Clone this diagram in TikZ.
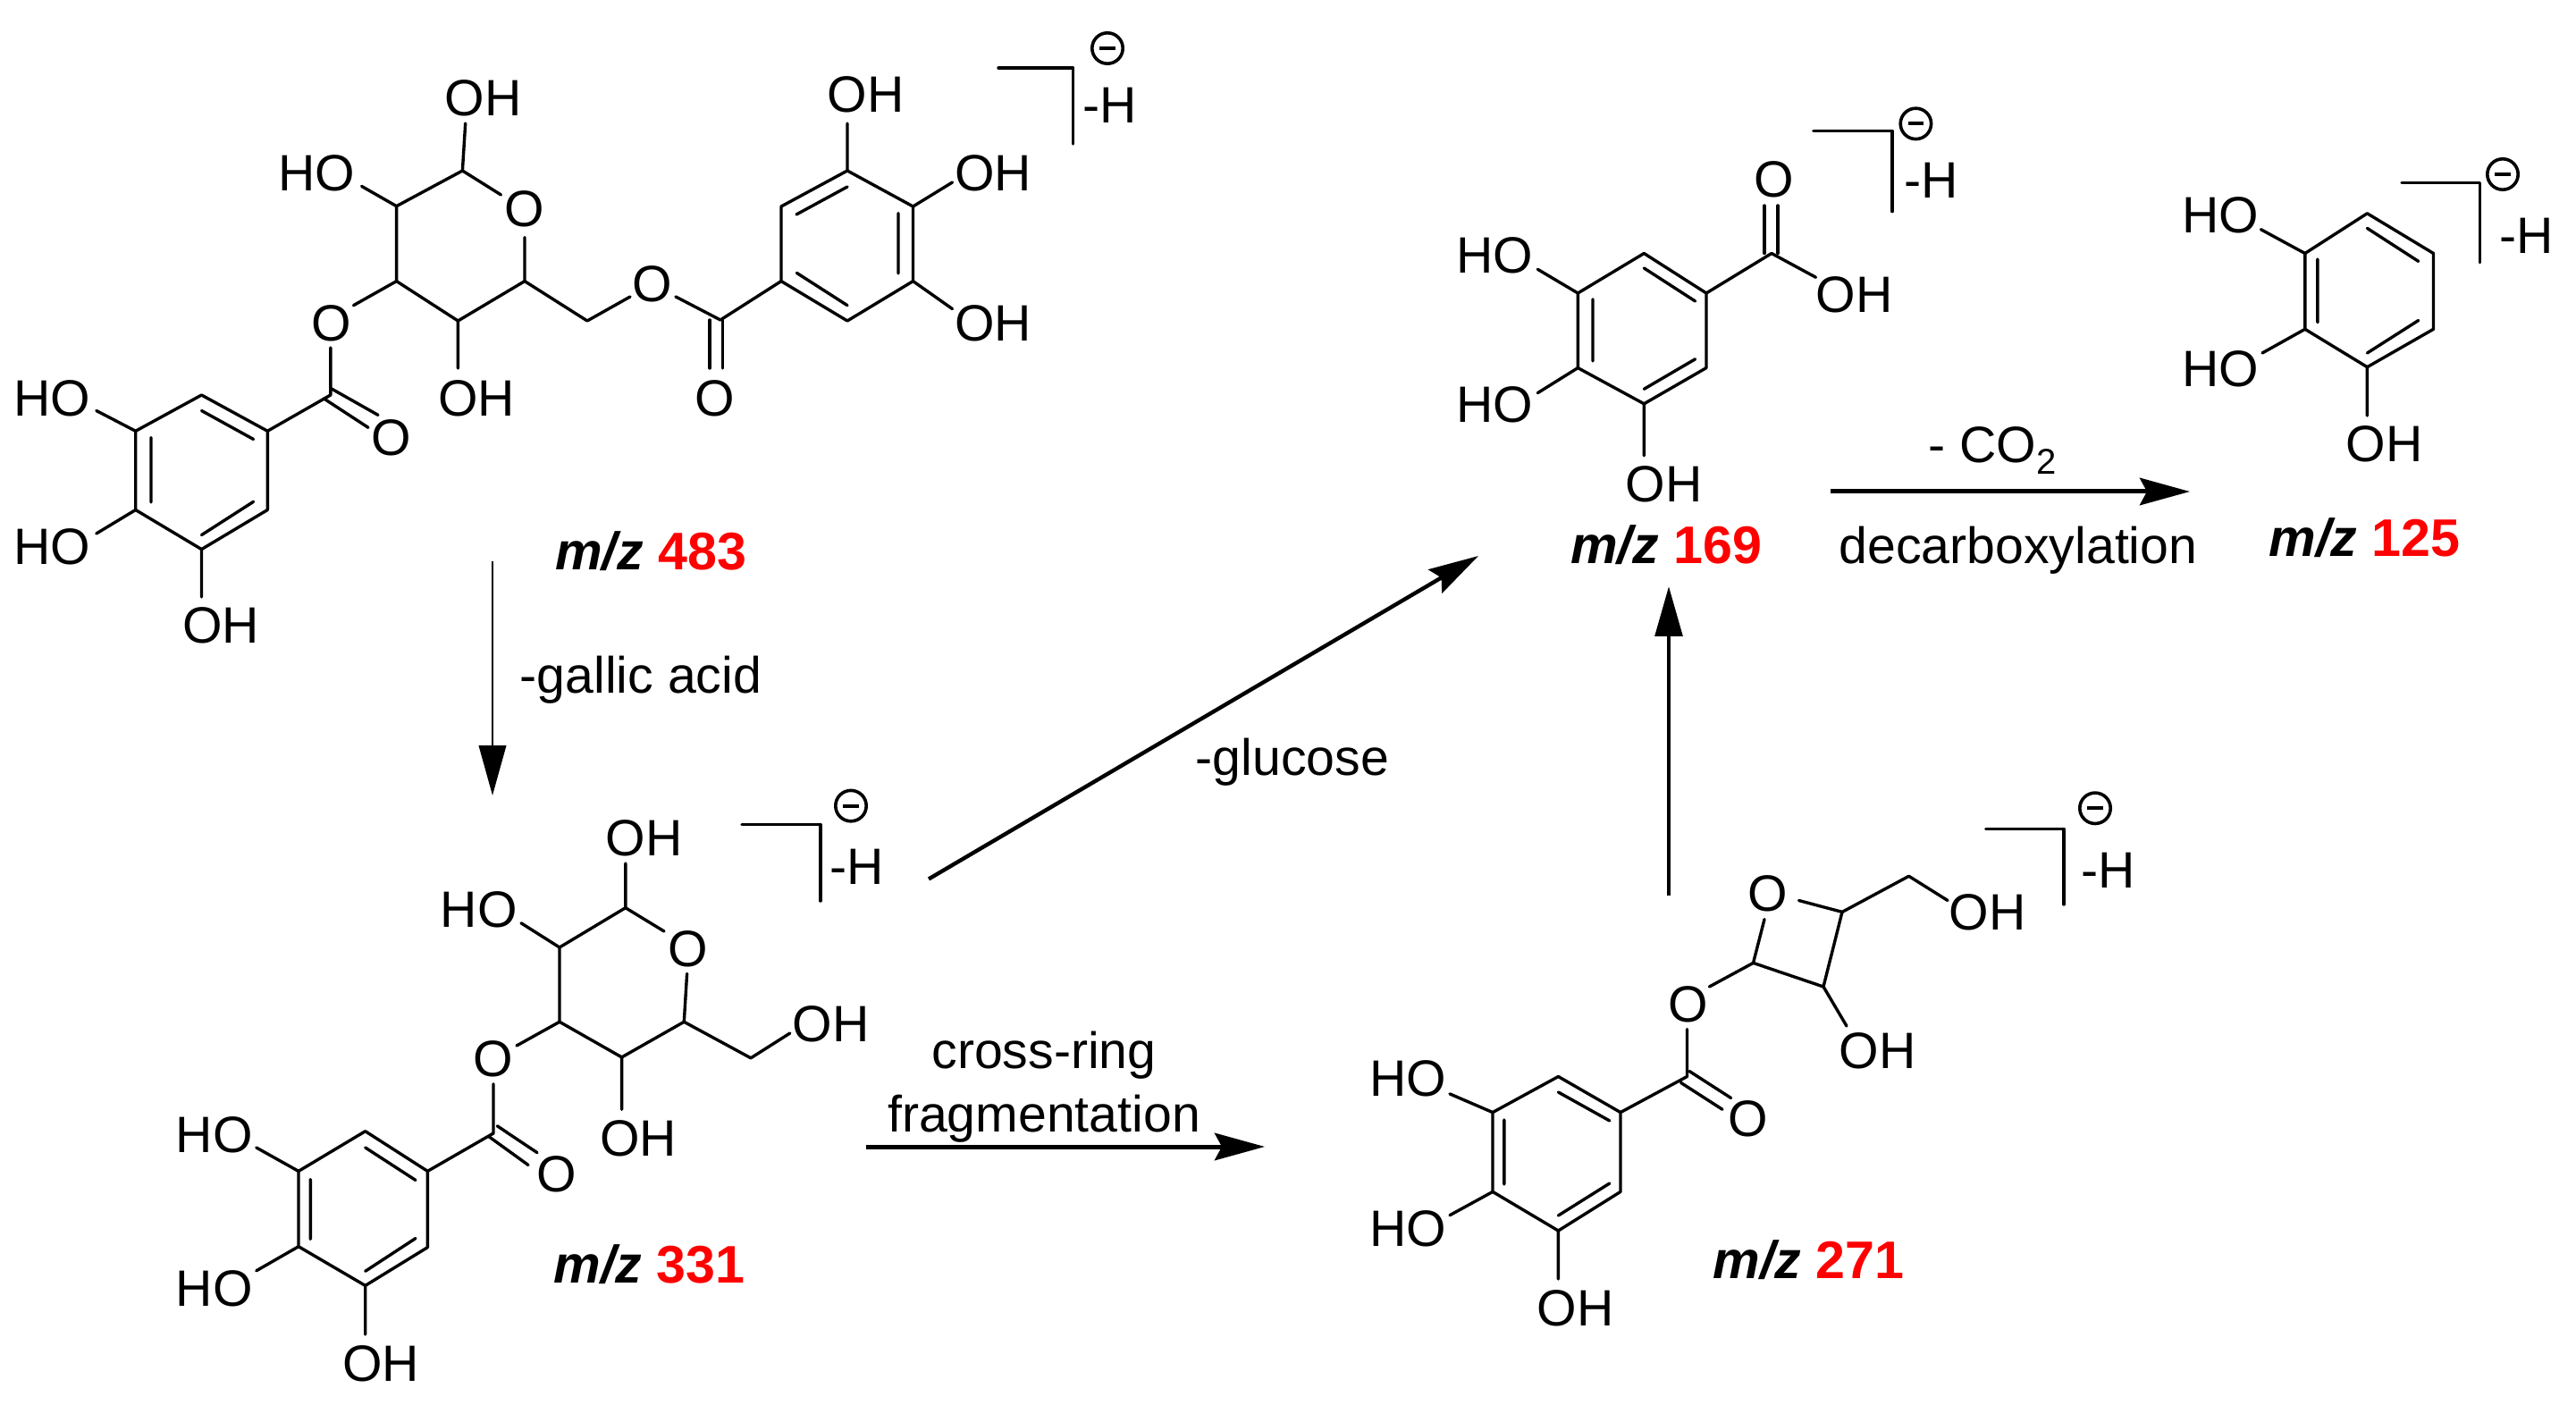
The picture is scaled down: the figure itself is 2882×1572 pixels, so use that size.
\documentclass[tikz,border=0pt]{standalone}
\usepackage{fontspec}
\setmainfont{Liberation Sans}
\usetikzlibrary{arrows.meta}
\definecolor{mzred}{RGB}{255,0,0}
\tikzset{
  bond/.style={line width=0.85pt,line cap=round,line join=round},
  atom/.style={inner sep=0pt,font=\fontsize{14.3pt}{17pt}\selectfont},
  caption text/.style={inner sep=0pt,anchor=base,font=\fontsize{14.3pt}{17pt}\selectfont},
  mz/.style={inner sep=0pt,anchor=base,font=\fontsize{14.8pt}{17pt}\selectfont\bfseries},
  chg/.style={circle,draw,line width=0.9pt,minimum size=8.6pt,inner sep=0pt},
  rxn/.style={-{Stealth[length=14pt,width=7.6pt,inset=2pt]}},
  rxnflat/.style={-{Stealth[length=14pt,width=7.6pt,inset=0pt]}},
}
\newcommand{\mzlabel}[1]{\textit{m/z} \textcolor{mzred}{#1}}
\newcommand{\minussign}{\rule{4.4pt}{1pt}}
\begin{document}
\begin{tikzpicture}[x=0.25pt,y=-0.25pt]
\useasboundingbox (0,0) rectangle (2882,1572);

% ---- m/z 483 ----
\draw[bond] (874,231) -- (948,191) -- (1021.5,231) -- (1021.5,314.6) -- (948,359) -- (874,314.6) -- cycle;
\draw[bond] (948,209) -- (891,240) (1005,238.5) -- (1005,306) (948,341.7) -- (891.4,305.4);
\draw[bond] (948,191) -- (948,138) (1021.5,231) -- (1065.5,204) (1021.5,314.6) -- (1065.5,345.6);
\draw[bond] (874,314.6) -- (806,358) -- (756,332);
\draw[bond] (794,358) -- (794,412) (808.5,358) -- (808.5,412);
\draw[bond] (705,332) -- (657,359) -- (587,314.6) -- (587,265.6);
\draw[bond] (560.5,218) -- (517.4,191) -- (443.6,230.7) -- (443.6,314.6) -- (512.4,359) -- (587,314.6);
\draw[bond] (517.4,191) -- (520.7,138) (443.6,230.7) -- (404.6,208.4) (512.4,359) -- (512.4,412);
\draw[bond] (443.6,314.6) -- (395.5,341.7) (369.8,389) -- (369.8,442) -- (299.3,482.3);
\draw[bond] (362.4,446) -- (412,478.4) (370.6,434.8) -- (423,464.4);
\draw[bond] (299.3,482.3) -- (225.5,442) -- (151.7,482.3) -- (151.7,570.5) -- (225.5,614.6) -- (299.3,570.5) -- cycle;
\draw[bond] (225.5,459.5) -- (283.6,491.5) (169,489.6) -- (169,562) (225.5,598.6) -- (283.6,561.3);
\draw[bond] (151.7,482.3) -- (107.8,459.5) (151.7,570.5) -- (107.8,597) (225.5,614.6) -- (225.5,668);
\draw[bond] (1117,76) -- (1200.7,76) -- (1200.7,161);
\node[atom] (a1) at (968.5,105.7) {OH};
\node[atom] (a2) at (1111,194) {OH};
\node[atom] (a3) at (1111,361.6) {OH};
\node[atom] (a4) at (800,446) {O};
\node[atom] (a5) at (730,317.5) {O};
\node[atom] (a6) at (587,233.6) {O};
\node[atom] (a7) at (540.6,109.5) {OH};
\node[atom] (a8) at (354,194) {HO};
\node[atom] (a9) at (533,446) {OH};
\node[atom] (a10) at (370.6,361.6) {O};
\node[atom] (a11) at (437.8,489.6) {O};
\node[atom] (a12) at (58,446) {HO};
\node[atom] (a13) at (58,611.7) {HO};
\node[atom] (a14) at (247,700) {OH};
\node[atom] (a15) at (1242,118) {-H};
\node[chg] (a16) at (1239,54) {\minussign};
\node[mz] (a17) at (728,637.4) {\mzlabel{483}};

% ---- m/z 331 ----
\draw[bond] (830,922.3) -- (917.8,922.3) -- (917.8,1008);
\draw[bond] (743,1042) -- (699.8,1015.7) -- (626,1060) -- (626,1143.3) -- (695.6,1182.9) -- (765.3,1143.3) -- (768.6,1089.4);
\draw[bond] (699.8,1015.7) -- (699.8,966) (626,1060) -- (583,1032.8);
\draw[bond] (765.3,1143.3) -- (840,1183.8) -- (883.8,1156) (695.6,1182.9) -- (695.6,1241.3);
\draw[bond] (626,1143.3) -- (578,1170) (552,1212.8) -- (552,1268) -- (478.4,1310.4);
\draw[bond] (546.4,1271.3) -- (591,1303.5) (556.3,1259.8) -- (601,1289.7);
\draw[bond] (478.4,1310.4) -- (408.7,1265.7) -- (334,1310.4) -- (334,1394.7) -- (408.7,1438.4) -- (478.4,1395.6) -- cycle;
\draw[bond] (408.7,1284) -- (465,1320.5) (347.3,1319.6) -- (347.3,1386.4) (408.7,1422.3) -- (465,1385.5);
\draw[bond] (334,1310.4) -- (286.8,1284) (334,1394.7) -- (286.8,1421.8) (408.7,1438.4) -- (408.7,1493);
\node[atom] (b1) at (720.5,937.5) {OH};
\node[atom] (b2) at (770,1061.8) {O};
\node[atom] (b3) at (535.6,1018) {HO};
\node[atom] (b4) at (929.4,1145.6) {OH};
\node[atom] (b5) at (714,1273.6) {OH};
\node[atom] (b6) at (552,1185) {O};
\node[atom] (b7) at (622.6,1313.6) {O};
\node[atom] (b8) at (239.6,1270) {HO};
\node[atom] (b9) at (239.6,1441.6) {HO};
\node[atom] (b10) at (426,1526) {OH};
\node[atom] (b11) at (958.5,969.7) {-H};
\node[chg] (b12) at (952,901.6) {\minussign};
\node[mz] (b13) at (726.5,1435.6) {\mzlabel{331}};

% ---- m/z 271 ----
\draw[bond] (2012.5,1007.5) -- (2061,1020.4) -- (2040,1104) -- (1961.5,1077.4) -- (1974,1028.6);
\draw[bond] (2061,1020.4) -- (2135.6,980.3) -- (2179,1007.5) (2040,1104) -- (2066,1148);
\draw[bond] (1961.5,1077.4) -- (1912.4,1104) (1887.5,1151.6) -- (1887.5,1204.5) -- (1813,1244.6);
\draw[bond] (1880.5,1211.4) -- (1927,1241.3) (1890,1198.5) -- (1936.6,1228.5);
\draw[bond] (1813,1244.6) -- (1743.4,1204.5) -- (1670,1244.6) -- (1670,1333.4) -- (1743.4,1377) -- (1813,1333.4) -- cycle;
\draw[bond] (1743.4,1222) -- (1800.8,1254) (1682.8,1252.9) -- (1682.8,1325) (1743.4,1360) -- (1800.8,1324);
\draw[bond] (1670,1244.6) -- (1622,1223.9) (1670,1333.4) -- (1622,1359.7) (1743.4,1377) -- (1743.4,1431);
\draw[bond] (2221.7,927.3) -- (2309,927.3) -- (2309,1012);
\node[atom] (c1) at (1978,999.6) {O};
\node[atom] (c2) at (2223.6,1021) {OH};
\node[atom] (c3) at (2100.5,1175.5) {OH};
\node[atom] (c4) at (1888.8,1123.5) {O};
\node[atom] (c5) at (1955.7,1251.5) {O};
\node[atom] (c6) at (1575,1206.8) {HO};
\node[atom] (c7) at (1575,1374.9) {HO};
\node[atom] (c8) at (1762.5,1463.7) {OH};
\node[atom] (c9) at (2358.8,973.4) {-H};
\node[chg] (c10) at (2344,904.3) {\minussign};
\node[mz] (c11) at (2023.7,1430) {\mzlabel{271}};

% ---- m/z 169 ----
\draw[bond] (2028.8,146.4) -- (2117,146.4) -- (2117,236.6);
\draw[bond] (1974,230) -- (1974,283.5) (1989,230) -- (1989,283.5);
\draw[bond] (2031.5,310.3) -- (1982,283.5) -- (1909,328);
\draw[bond] (1909,328) -- (1839.3,283.5) -- (1765.3,328) -- (1765.3,411.6) -- (1839.3,451.8) -- (1909,411.6) -- cycle;
\draw[bond] (1839.3,300) -- (1896.6,337) (1782,334.8) -- (1782,404) (1839.3,435.3) -- (1896.6,401.8);
\draw[bond] (1765.3,328) -- (1720.3,301.3) (1765.3,411.6) -- (1720.3,439.7) (1839.3,451.8) -- (1839.3,509.8);
\node[atom] (d1) at (1984.8,200.9) {O};
\node[atom] (d2) at (2074.7,329.5) {OH};
\node[atom] (d3) at (1671.9,285.7) {HO};
\node[atom] (d4) at (1671.9,453) {HO};
\node[atom] (d5) at (1861.4,541.5) {OH};
\node[atom] (d6) at (2161,201.8) {-H};
\node[chg] (d7) at (2143.4,138.4) {\minussign};
\node[mz] (d8) at (1864,630.8) {\mzlabel{169}};

% ---- m/z 125 ----
\draw[bond] (2687,204.5) -- (2774.4,204.5) -- (2774.4,293.8);
\draw[bond] (2648.4,238.8) -- (2722.5,283.5) -- (2722.5,368.3) -- (2648.4,410.7) -- (2578.8,368.3) -- (2578.8,283.5) -- cycle;
\draw[bond] (2648.4,255.4) -- (2705.7,292.4) (2592.9,290) -- (2592.9,360.7) (2648.4,395) -- (2705.7,358.5);
\draw[bond] (2578.8,283.5) -- (2529.4,256.7) (2578.8,368.3) -- (2531,395) (2648.4,410.7) -- (2648.4,465);
\node[atom] (e1) at (2484.5,241) {HO};
\node[atom] (e2) at (2484.5,413) {HO};
\node[atom] (e3) at (2667.8,496.9) {OH};
\node[atom] (e4) at (2826.4,263.4) {-H};
\node[chg] (e5) at (2800,195) {\minussign};
\node[mz] (e6) at (2645.5,622.8) {\mzlabel{125}};

% ---- reaction arrows ----
\coordinate (r1s) at (551,628);   \coordinate (r1e) at (551,890);
\coordinate (r2s) at (1039,983.5);\coordinate (r2e) at (1654,622);
\coordinate (r3s) at (969,1283);  \coordinate (r3e) at (1415,1283);
\coordinate (r4s) at (1867,1002); \coordinate (r4e) at (1867,656);
\coordinate (r5s) at (2048,550);  \coordinate (r5e) at (2450,550);
\draw[rxnflat,line width=0.65pt] (r1s) -- (r1e);
\draw[rxn,line width=1.1pt] (r2s) -- (r2e);
\draw[rxn,line width=1.25pt] (r3s) -- (r3e);
\draw[rxnflat,line width=1.2pt] (r4s) -- (r4e);
\draw[rxn,line width=1.25pt] (r5s) -- (r5e);
\node[caption text] (l1) at (717,775.7) {-gallic acid};
\node[caption text] (l2) at (1446,867.5) {-glucose};
\node[caption text] (l3) at (1168,1195) {cross-ring};
\node[caption text] (l4) at (1168,1266.7) {fragmentation};
\node[caption text] (l5) at (2229,518) {- CO\raisebox{-3.2pt}{\fontsize{10pt}{10pt}\selectfont 2}};
\node[caption text] (l6) at (2258,630) {decarboxylation};
\end{tikzpicture}
\end{document}
